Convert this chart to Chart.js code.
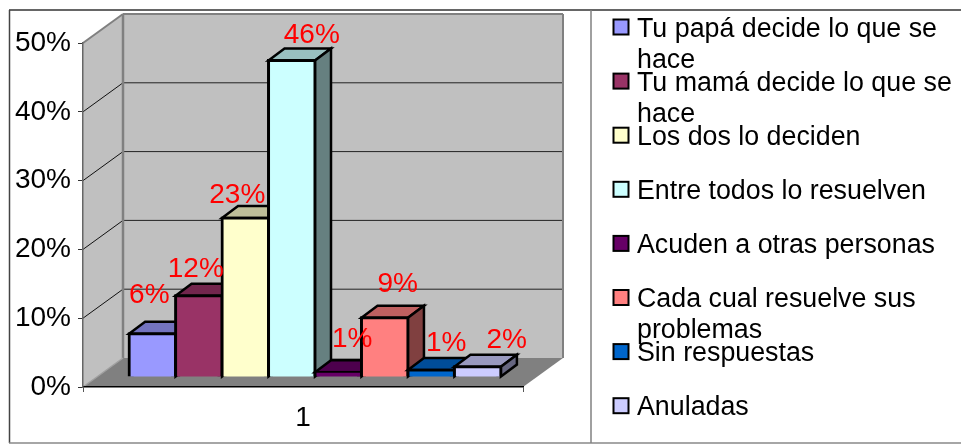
<!DOCTYPE html>
<html>
<head>
<meta charset="utf-8">
<style>
body { margin: 0; background: #fff; }
canvas { display: block; }
</style>
<script src="https://cdn.jsdelivr.net/npm/chart.js@4"></script>
</head>
<body>
<canvas id="bar" width="961" height="445"></canvas>
<script>
// data
const categories = ["1"]
const seriesNames = [
    "Tu papá decide lo que se hace",
    "Tu mamá decide lo que se hace",
    "Los dos lo deciden",
    "Entre todos lo resuelven",
    "Acuden a otras personas",
    "Cada cual resuelve sus problemas",
    "Sin respuestas",
    "Anuladas"
]
const seriesValues = [6.3, 11.8, 23.1, 46, 0.7, 8.6, 1.0, 1.5]
const seriesColors = ["#9999FF", "#993366", "#FFFFCC", "#CCFFFF", "#660066", "#FF8080", "#0066CC", "#CCCCFF"]

// hand placed labels, offset from the top of each bar
const labelShift = [[-3, -31], [-3, -19], [-8, -15], [20, -18], [14, -25], [13, -26], [15, -19], [29, -19]]

const FONT = "'Liberation Sans', Arial, sans-serif"
const wallDepth = { x: 40, y: -29 }
const barOffset = { x: 12, y: -10 }
const barDepth = { x: 16, y: -12 }

function shade(hex, k) {
    let n = parseInt(hex.slice(1), 16)
    let r = Math.round((n >> 16 & 255) * k)
    let g = Math.round((n >> 8 & 255) * k)
    let b = Math.round((n & 255) * k)
    return `rgb(${r},${g},${b})`
}

function poly(ctx, pts, fill, stroke, lw) {
    ctx.beginPath()
    ctx.moveTo(pts[0][0], pts[0][1])
    for (let i = 1; i < pts.length; i++) ctx.lineTo(pts[i][0], pts[i][1])
    ctx.closePath()
    if (fill) {
        ctx.fillStyle = fill
        ctx.fill()
    }
    if (stroke) {
        ctx.strokeStyle = stroke
        ctx.lineWidth = lw
        ctx.lineJoin = "miter"
        ctx.stroke()
    }
}

function line(ctx, x1, y1, x2, y2, color, lw) {
    ctx.beginPath()
    ctx.moveTo(x1, y1)
    ctx.lineTo(x2, y2)
    ctx.strokeStyle = color
    ctx.lineWidth = lw
    ctx.stroke()
}

// frame, walls, floor and back grid lines
const room = {
    id: "room",
    beforeDraw(chart) {
        let ctx = chart.ctx
        let a = chart.chartArea
        let dx = wallDepth.x
        let dy = wallDepth.y
        ctx.save()
        ctx.fillStyle = "#fff"
        ctx.fillRect(0, 0, chart.width, chart.height)

        line(ctx, 9, 10, 961, 10, "#333", 1.5)
        line(ctx, 9.5, 10, 9.5, 443, "#444", 1.5)
        line(ctx, 9, 443, 961, 443, "#888", 1.5)
        line(ctx, 591, 10, 591, 443, "#808080", 1.5)

        poly(ctx, [[a.left + dx, a.top + dy], [a.right + dx, a.top + dy], [a.right + dx, a.bottom + dy], [a.left + dx, a.bottom + dy]], "#C0C0C0")
        poly(ctx, [[a.left, a.top], [a.left + dx, a.top + dy], [a.left + dx, a.bottom + dy], [a.left, a.bottom]], "#C0C0C0")
        poly(ctx, [[a.left, a.bottom], [a.right, a.bottom], [a.right + dx, a.bottom + dy], [a.left + dx, a.bottom + dy]], "#808080")

        let y = chart.scales.y
        y.ticks.forEach(function(t) {
            let py = y.getPixelForValue(t.value)
            if (t.value > 0 && t.value < 50) {
                line(ctx, a.left, py, a.left + dx, py + dy, "#111", 1)
                line(ctx, a.left + dx, py + dy, a.right + dx, py + dy, "#222", 1)
            }
        })

        line(ctx, a.left, a.top, a.left + dx, a.top + dy, "#808080", 2)
        line(ctx, a.left + dx, a.top + dy, a.right + dx, a.top + dy, "#808080", 2)
        line(ctx, a.left + dx, a.top + dy, a.left + dx, a.bottom + dy, "#808080", 2.5)
        line(ctx, a.right + dx, a.top + dy, a.right + dx, a.bottom + dy, "#808080", 2)
        line(ctx, a.left, a.bottom, a.left + dx, a.bottom + dy, "#A0A0A0", 1.5)
        ctx.restore()
    },
    // the library would draw the last dataset first, the bars need left to right
    beforeDatasetDraw() {
        return false
    },
    afterDatasetsDraw(chart) {
        let ctx = chart.ctx
        for (let i = 0; i < seriesValues.length; i++) {
            let meta = chart.getDatasetMeta(i)
            let bar = meta.data[0]
            let l = bar.x - bar.width / 2
            let r = bar.x + bar.width / 2
            let dx = barDepth.x
            let dy = barDepth.y
            ctx.save()
            ctx.translate(barOffset.x, barOffset.y)
            poly(ctx, [[l, bar.y], [l + dx, bar.y + dy], [r + dx, bar.y + dy], [r, bar.y]], shade(seriesColors[i], 0.75), "#000", 2.5)
            poly(ctx, [[r, bar.y], [r + dx, bar.y + dy], [r + dx, bar.base + dy], [r, bar.base]], shade(seriesColors[i], 0.5), "#000", 2.5)
            meta.controller.draw()
            ctx.restore()
        }

        // value labels
        ctx.save()
        ctx.font = "28px " + FONT
        ctx.fillStyle = "#FF0000"
        ctx.textAlign = "center"
        ctx.textBaseline = "alphabetic"
        for (let i = 0; i < seriesValues.length; i++) {
            let bar = chart.getDatasetMeta(i).data[0]
            let x = bar.x + barOffset.x + labelShift[i][0]
            let y = bar.y + barOffset.y + labelShift[i][1]
            ctx.fillText(seriesValues[i].toFixed(0) + "%", x, y)
        }
        ctx.restore()

        drawLegend(chart)
    }
}

function wrapText(ctx, text, maxWidth) {
    let words = text.split(" ")
    let lines = []
    let cur = ""
    words.forEach(function(w) {
        let test = cur ? cur + " " + w : w
        if (ctx.measureText(test).width > maxWidth && cur) {
            lines.push(cur)
            cur = w
        } else {
            cur = test
        }
    })
    lines.push(cur)
    return lines
}

function drawLegend(chart) {
    let ctx = chart.ctx
    ctx.save()
    ctx.font = "26.8px " + FONT
    ctx.textBaseline = "alphabetic"
    ctx.textAlign = "left"
    for (let i = 0; i < seriesNames.length; i++) {
        let cy = 27 + i * 54.1
        ctx.fillStyle = "#000"
        ctx.fillRect(612.5, cy - 8.5, 17, 17)
        ctx.fillStyle = seriesColors[i]
        ctx.fillRect(614.5, cy - 6.5, 13, 13)
        ctx.fillStyle = "#000"
        wrapText(ctx, seriesNames[i], 325).forEach(function(txt, n) {
            ctx.fillText(txt, 637, cy + 9.5 + n * 31)
        })
    }
    ctx.restore()
}

let ctx = document.getElementById("bar").getContext("2d")
let myChart = new Chart(ctx, {
    type: "bar",
    data: {
        labels: categories,
        datasets: seriesNames.map(function(name, i) {
            return {
                label: name,
                data: [seriesValues[i]],
                backgroundColor: seriesColors[i],
                borderColor: "#000",
                borderWidth: 3,
                inflateAmount: 1.5
            }
        })
    },
    options: {
        responsive: false,
        animation: false,
        layout: { padding: { left: 0, top: 43, right: 438, bottom: 0 } },
        categoryPercentage: 0.845,
        barPercentage: 1,
        plugins: {
            legend: { display: false },
            tooltip: { enabled: false }
        },
        scales: {
            x: {
                afterFit: function(s) { s.height = 58 },
                grid: { drawOnChartArea: false, color: "#555", tickLength: 5 },
                border: { color: "#000", width: 1.5 },
                ticks: { color: "#000", padding: 9, font: { family: FONT, size: 28 } }
            },
            y: {
                min: 0,
                max: 50,
                afterFit: function(s) { s.width = 83 },
                grid: { drawOnChartArea: false, color: "#333", tickLength: 5 },
                border: { color: "#666", width: 1.5 },
                ticks: {
                    stepSize: 10,
                    color: "#000",
                    padding: 7,
                    font: { family: FONT, size: 28 },
                    callback: function(v) { return v + "%" }
                }
            }
        }
    },
    plugins: [room]
})
</script>
</body>
</html>
